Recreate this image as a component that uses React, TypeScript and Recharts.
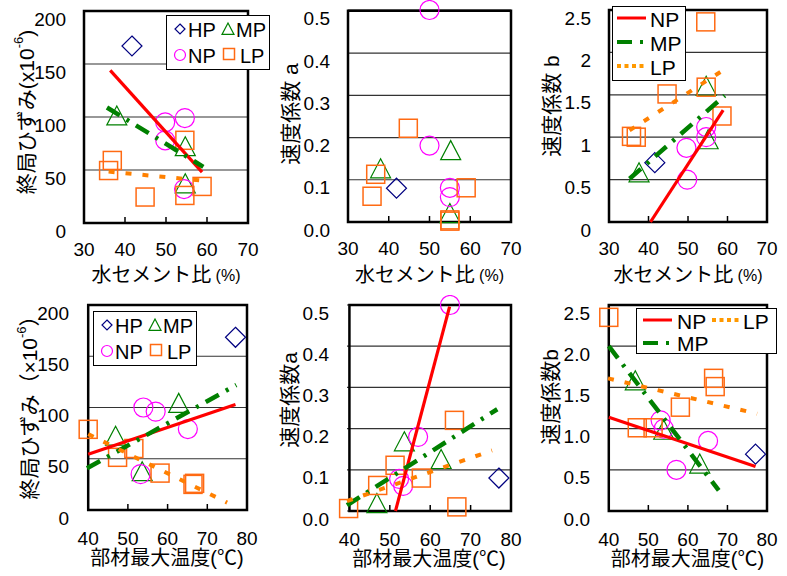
import React from "react";
import {
  ScatterChart,
  Scatter,
  XAxis,
  YAxis,
  CartesianGrid,
  ReferenceArea,
  Legend,
} from "recharts";

type Pt = { x: number; y: number };

// --- top row: water-cement ratio (%) ---
const wcTicks = [30, 40, 50, 60, 70];

const finalHP_wc: Pt[] = [{ x: 41.7, y: 167 }];
const finalMP_wc: Pt[] = [{ x: 38, y: 101 }, { x: 54.7, y: 72 }, { x: 54.7, y: 37 }];
const finalNP_wc: Pt[] = [{ x: 49.8, y: 95 }, { x: 54.6, y: 99 }, { x: 49.8, y: 78 }, { x: 54.4, y: 32 }];
const finalLP_wc: Pt[] = [
  { x: 36.9, y: 59 }, { x: 36, y: 49.5 }, { x: 44.9, y: 24.5 },
  { x: 54.6, y: 78 }, { x: 54.6, y: 26 }, { x: 58.8, y: 34.5 },
];
const finalNPTrend_wc: Pt[] = [{ x: 36.4, y: 144 }, { x: 58.8, y: 48 }];
const finalMPTrend_wc: Pt[] = [{ x: 35.6, y: 109 }, { x: 59.1, y: 53 }];
const finalLPTrend_wc: Pt[] = [{ x: 36, y: 48.5 }, { x: 58.8, y: 40 }];

const aHP_wc: Pt[] = [{ x: 41.9, y: 0.08 }];
const aMP_wc: Pt[] = [{ x: 55.2, y: 0.169 }, { x: 38, y: 0.126 }, { x: 55, y: 0.02 }];
const aNP_wc: Pt[] = [{ x: 50, y: 0.502 }, { x: 50, y: 0.181 }, { x: 55, y: 0.081 }, { x: 55, y: 0.059 }];
const aLP_wc: Pt[] = [
  { x: 44.8, y: 0.222 }, { x: 36.8, y: 0.113 }, { x: 35.9, y: 0.061 },
  { x: 59, y: 0.081 }, { x: 55, y: 0.005 }, { x: 55, y: 0.002 },
];

const bHP_wc: Pt[] = [{ x: 41.6, y: 0.7 }];
const bMP_wc: Pt[] = [{ x: 54.6, y: 1.6 }, { x: 55.1, y: 0.97 }, { x: 37.6, y: 0.58 }];
const bNP_wc: Pt[] = [{ x: 54.6, y: 1.12 }, { x: 54.6, y: 1.0 }, { x: 49.6, y: 0.875 }, { x: 49.8, y: 0.5 }];
const bLP_wc: Pt[] = [
  { x: 54.5, y: 2.36 }, { x: 44.7, y: 1.51 }, { x: 54.6, y: 1.59 },
  { x: 58.6, y: 1.25 }, { x: 35.7, y: 1.01 }, { x: 36.9, y: 1.0 },
];
const bNPTrend_wc: Pt[] = [{ x: 40.5, y: 0 }, { x: 58.9, y: 1.32 }];
const bMPTrend_wc: Pt[] = [{ x: 35.2, y: 0.51 }, { x: 59.3, y: 1.49 }];
const bLPTrend_wc: Pt[] = [{ x: 35.2, y: 1.08 }, { x: 58.9, y: 1.79 }];

// --- bottom row: max member temperature (°C) ---
const tTicks = [40, 50, 60, 70, 80];

const finalHP_t: Pt[] = [{ x: 77.1, y: 168.5 }];
const finalMP_t: Pt[] = [{ x: 62.8, y: 104 }, { x: 46.9, y: 72 }, { x: 53.6, y: 37.4 }];
const finalNP_t: Pt[] = [{ x: 53.9, y: 100 }, { x: 57, y: 96 }, { x: 65.1, y: 79 }, { x: 53.2, y: 35 }];
const finalLP_t: Pt[] = [
  { x: 40, y: 78.7 }, { x: 47.4, y: 51.4 }, { x: 51.5, y: 60 },
  { x: 58.1, y: 36 }, { x: 66.4, y: 25 }, { x: 66.8, y: 26 },
];
const finalNPTrend_t: Pt[] = [{ x: 40, y: 54.3 }, { x: 77.1, y: 103 }];
const finalMPTrend_t: Pt[] = [{ x: 39.7, y: 40.7 }, { x: 77.3, y: 122 }];
const finalLPTrend_t: Pt[] = [{ x: 40, y: 74 }, { x: 75, y: 7.2 }];

const aHP_t: Pt[] = [{ x: 77, y: 0.08 }];
const aMP_t: Pt[] = [{ x: 53.6, y: 0.168 }, { x: 62.7, y: 0.125 }, { x: 46.8, y: 0.018 }];
const aNP_t: Pt[] = [{ x: 64.9, y: 0.5 }, { x: 57, y: 0.18 }, { x: 52.3, y: 0.078 }, { x: 53.3, y: 0.061 }];
const aLP_t: Pt[] = [
  { x: 66, y: 0.22 }, { x: 51.3, y: 0.111 }, { x: 47, y: 0.062 },
  { x: 57.8, y: 0.08 }, { x: 39.8, y: 0.006 }, { x: 66.6, y: 0.01 },
];
const aNPTrend_t: Pt[] = [{ x: 51.4, y: 0 }, { x: 64.8, y: 0.496 }];
const aMPTrend_t: Pt[] = [{ x: 39.4, y: 0.014 }, { x: 76.6, y: 0.247 }];
const aLPTrend_t: Pt[] = [{ x: 39.4, y: 0.024 }, { x: 75.3, y: 0.147 }];

const bHP_t: Pt[] = [{ x: 77.1, y: 0.69 }];
const bMP_t: Pt[] = [{ x: 46.7, y: 1.58 }, { x: 53.9, y: 0.98 }, { x: 63, y: 0.57 }];
const bNP_t: Pt[] = [{ x: 53.1, y: 1.1 }, { x: 53.9, y: 1.0 }, { x: 65.1, y: 0.85 }, { x: 57.1, y: 0.5 }];
const bLP_t: Pt[] = [
  { x: 40, y: 2.35 }, { x: 66.5, y: 1.61 }, { x: 66.9, y: 1.51 },
  { x: 58.1, y: 1.26 }, { x: 47.2, y: 1.01 }, { x: 51.2, y: 1.01 },
];
const bNPTrend_t: Pt[] = [{ x: 40, y: 1.137 }, { x: 77.1, y: 0.54 }];
const bMPTrend_t: Pt[] = [{ x: 40, y: 2.0 }, { x: 67.8, y: 0.25 }];
const bLPTrend_t: Pt[] = [{ x: 39.8, y: 1.61 }, { x: 77.5, y: 1.18 }];

const strainTicks = [0, 50, 100, 150, 200];
const aTicks = [0, 0.1, 0.2, 0.3, 0.4, 0.5];
const bTicks = [0, 0.5, 1, 1.5, 2, 2.5];

const FONT = '"Liberation Sans", Arial, "Noto Sans CJK JP", sans-serif';
const NAVY = "#000080";
const GREEN = "#008000";
const MAGENTA = "#FF00FF";
const ORANGE = "#FF6A13";
const ORANGE_LINE = "#FF8000";
const RED = "#FF0000";

const NP_LINE = { stroke: RED, strokeWidth: 3.2 };
const MP_LINE = { stroke: GREEN, strokeWidth: 4.5, strokeDasharray: "15 8 3 8" };
const LP_LINE = { stroke: ORANGE_LINE, strokeWidth: 4, strokeDasharray: "6 11" };

function Diamond({ cx, cy, r = 10 }: any) {
  return (
    <polygon
      points={`${cx},${cy - r} ${cx + r},${cy} ${cx},${cy + r} ${cx - r},${cy}`}
      fill="none"
      stroke={NAVY}
      strokeWidth={1.2}
    />
  );
}
function Triangle({ cx, cy, r = 10 }: any) {
  return (
    <polygon
      points={`${cx},${cy - r} ${cx + r},${cy + r * 0.9} ${cx - r},${cy + r * 0.9}`}
      fill="none"
      stroke={GREEN}
      strokeWidth={1.2}
    />
  );
}
function Ring({ cx, cy, r = 9.5 }: any) {
  return <circle cx={cx} cy={cy} r={r} fill="none" stroke={MAGENTA} strokeWidth={1.2} />;
}
function Square({ cx, cy, r = 9 }: any) {
  return (
    <rect x={cx - r} y={cy - r} width={2 * r} height={2 * r} fill="none" stroke={ORANGE} strokeWidth={1.5} />
  );
}
const Blank = () => <g />;

function MarkerLegend() {
  const t = { fontSize: 20, fontFamily: FONT, dominantBaseline: "central" as const };
  return (
    <svg width={104} height={55} style={{ display: "block" }}>
      <rect x={0.5} y={0.5} width={103} height={54} fill="#fff" stroke="#000" strokeWidth={1} />
      <Diamond cx={14} cy={14} r={5} />
      <text x={22} y={15} {...t}>HP</text>
      <Triangle cx={62} cy={14} r={6} />
      <text x={70} y={15} {...t}>MP</text>
      <Ring cx={14} cy={40} r={5.5} />
      <text x={22} y={41} {...t}>NP</text>
      <Square cx={63} cy={39} r={5.5} />
      <text x={74} y={41} {...t}>LP</text>
    </svg>
  );
}

function LineLegendTop() {
  const t = { fontSize: 21, fontFamily: FONT, dominantBaseline: "central" as const };
  return (
    <svg width={74} height={75} style={{ display: "block" }}>
      <rect x={0.5} y={0.5} width={73} height={74} fill="#fff" stroke="#000" strokeWidth={1} />
      <line x1={5} x2={34} y1={12} y2={12} stroke={RED} strokeWidth={3} />
      <text x={38} y={13} {...t}>NP</text>
      <line x1={5} x2={34} y1={36} y2={36} stroke={GREEN} strokeWidth={4} strokeDasharray="15 8 3 8" />
      <text x={38} y={37} {...t}>MP</text>
      <line x1={5} x2={34} y1={60} y2={60} stroke="#FF9900" strokeWidth={4} strokeDasharray="4 3.5" />
      <text x={38} y={61} {...t}>LP</text>
    </svg>
  );
}

function LineLegendBottom() {
  const t = { fontSize: 21, fontFamily: FONT, dominantBaseline: "central" as const };
  return (
    <svg width={141} height={46} style={{ display: "block" }}>
      <rect x={0.5} y={0.5} width={140} height={45} fill="#fff" stroke="#000" strokeWidth={1} />
      <line x1={7} x2={36} y1={12} y2={12} stroke={RED} strokeWidth={3} />
      <text x={41} y={13} {...t}>NP</text>
      <line x1={76} x2={104} y1={12} y2={12} stroke="#FF9900" strokeWidth={4} strokeDasharray="4 3.5" />
      <text x={107} y={13} {...t}>LP</text>
      <line x1={7} x2={36} y1={35} y2={35} stroke={GREEN} strokeWidth={4} strokeDasharray="15 8 3 8" />
      <text x={41} y={35} {...t}>MP</text>
    </svg>
  );
}

interface PanelProps {
  plot: { x: number; y: number; w: number; h: number };
  xTicks: number[];
  yTicks: number[];
  yFmt: (v: number) => string;
  xTitle: React.ReactNode;
  xTitleDy: number;
  xTickDy: number;
  yTitle: React.ReactNode;
  yTitleDy: number;
  hp: Pt[];
  mp: Pt[];
  np: Pt[];
  lp: Pt[];
  npTrend?: Pt[];
  mpTrend?: Pt[];
  lpTrend?: Pt[];
  legend?: React.ReactNode;
  legendBox?: { left: number; top: number; width: number; height: number };
}

function Panel(p: PanelProps) {
  const { plot } = p;
  const xLo = p.xTicks[0];
  const xHi = p.xTicks[p.xTicks.length - 1];
  const yLo = p.yTicks[0];
  const yHi = p.yTicks[p.yTicks.length - 1];
  const left = plot.x - 80;
  const top = plot.y - 10;
  const width = plot.w + 102;
  const height = plot.h + 82;

  const xTick = (t: any) => {
    const v = t.payload.value;
    const inner = v !== xLo && v !== xHi;
    return (
      <g>
        {inner && <line x1={t.x} x2={t.x} y1={t.y} y2={t.y - 6} stroke="#000" strokeWidth={1.5} />}
        <text x={t.x} y={t.y + p.xTickDy} textAnchor="middle" dominantBaseline="central" fontSize={19} fontFamily={FONT} fill="#000">
          {v}
        </text>
      </g>
    );
  };
  const yTick = (t: any) => (
    <text x={t.x} y={t.y + 8} textAnchor="end" dominantBaseline="central" fontSize={19} fontFamily={FONT} fill="#000">
      {p.yFmt(t.payload.value)}
    </text>
  );

  return (
    <div style={{ position: "absolute", left, top, width, height }}>
      <ScatterChart width={width} height={height} margin={{ top: 10, right: 22, bottom: 0, left: 0 }}>
        <CartesianGrid horizontal vertical={false} stroke="#333" strokeWidth={1.2} />
        <XAxis
          type="number"
          dataKey="x"
          domain={[xLo, xHi]}
          ticks={p.xTicks}
          interval={0}
          height={72}
          axisLine={false}
          tickLine={false}
          tickSize={0}
          tickMargin={0}
          tick={xTick}
          label={{
            content: (lp: any) => {
              const vb = lp.viewBox;
              return (
                <text x={vb.x + vb.width / 2} y={vb.y + p.xTitleDy} textAnchor="middle" dominantBaseline="central" fontSize={20} fontFamily={FONT} fill="#000">
                  {p.xTitle}
                </text>
              );
            },
          }}
        />
        <YAxis
          type="number"
          dataKey="y"
          domain={[yLo, yHi]}
          ticks={p.yTicks}
          interval={0}
          width={80}
          axisLine={false}
          tickLine={false}
          tickSize={0}
          tickMargin={18}
          tick={yTick}
          label={{
            content: (lp: any) => {
              const vb = lp.viewBox;
              const cx = vb.x + 22;
              const cy = vb.y + vb.height / 2 + p.yTitleDy;
              return (
                <text x={cx} y={cy} transform={`rotate(-90 ${cx} ${cy})`} textAnchor="middle" dominantBaseline="central" fontSize={21} fontFamily={FONT} fill="#000">
                  {p.yTitle}
                </text>
              );
            },
          }}
        />
        <ReferenceArea x1={xLo} x2={xHi} y1={yLo} y2={yHi} fill="none" stroke="#000" strokeWidth={2.5} fillOpacity={0} />
        <Scatter name="HP" data={p.hp} shape={Diamond} isAnimationActive={false} />
        <Scatter name="MP" data={p.mp} shape={Triangle} isAnimationActive={false} />
        <Scatter name="NP" data={p.np} shape={Ring} isAnimationActive={false} />
        <Scatter name="LP" data={p.lp} shape={Square} isAnimationActive={false} />
        {p.npTrend && (
          <Scatter name="NP trend" data={p.npTrend} shape={Blank} fill={RED} line={NP_LINE} isAnimationActive={false} legendType="none" />
        )}
        {p.mpTrend && (
          <Scatter name="MP trend" data={p.mpTrend} shape={Blank} fill={GREEN} line={MP_LINE} isAnimationActive={false} legendType="none" />
        )}
        {p.lpTrend && (
          <Scatter name="LP trend" data={p.lpTrend} shape={Blank} fill={ORANGE_LINE} line={LP_LINE} isAnimationActive={false} legendType="none" />
        )}
        {p.legend && p.legendBox && (
          <Legend
            layout="horizontal"
            verticalAlign="middle"
            align="center"
            wrapperStyle={{
              left: p.legendBox.left,
              top: p.legendBox.top,
              width: p.legendBox.width,
              height: p.legendBox.height,
              lineHeight: 0,
              overflow: "visible",
            }}
            content={() => p.legend}
          />
        )}
      </ScatterChart>
    </div>
  );
}

const fmtInt = (v: number) => String(v);
const fmt1 = (v: number) => v.toFixed(1);
const fmtB = (v: number) => (v === 0 ? "0" : String(v));

const wcTitle = (
  <>
    水セメント比<tspan fontSize={16}> (%)</tspan>
  </>
);
const tTitle = <>部材最大温度(℃)</>;
const strainTitleTop = (
  <>
    終局ひずみ(x10<tspan dy={-8} fontSize={13}>-6</tspan>
    <tspan dy={8}>)</tspan>
  </>
);
const strainTitleBottom = (
  <>
    終局ひずみ（×10<tspan dy={-8} fontSize={13}>-6</tspan>
    <tspan dy={8}>）</tspan>
  </>
);

export default function App() {
  return (
    <div style={{ position: "absolute", left: 0, top: 0, width: 787, height: 576, overflow: "hidden", background: "#fff", fontFamily: FONT }}>
      <Panel
        plot={{ x: 84, y: 11, w: 164, h: 212 }}
        xTicks={wcTicks} yTicks={strainTicks} yFmt={fmtInt}
        xTitle={wcTitle} xTitleDy={52} xTickDy={26}
        yTitle={strainTitleTop} yTitleDy={-5}
        hp={finalHP_wc} mp={finalMP_wc} np={finalNP_wc} lp={finalLP_wc}
        npTrend={finalNPTrend_wc} mpTrend={finalMPTrend_wc} lpTrend={finalLPTrend_wc}
        legend={<MarkerLegend />} legendBox={{ left: 162, top: 14, width: 104, height: 55 }}
      />
      <Panel
        plot={{ x: 348, y: 10, w: 163, h: 212 }}
        xTicks={wcTicks} yTicks={aTicks} yFmt={fmt1}
        xTitle={wcTitle} xTitleDy={53} xTickDy={26}
        yTitle={<>速度係数 a</>} yTitleDy={-2}
        hp={aHP_wc} mp={aMP_wc} np={aNP_wc} lp={aLP_wc}
      />
      <Panel
        plot={{ x: 609, y: 10, w: 158, h: 212 }}
        xTicks={wcTicks} yTicks={bTicks} yFmt={fmtB}
        xTitle={wcTitle} xTitleDy={53} xTickDy={26}
        yTitle={<>速度係数 b</>} yTitleDy={-10}
        hp={bHP_wc} mp={bMP_wc} np={bNP_wc} lp={bLP_wc}
        npTrend={bNPTrend_wc} mpTrend={bMPTrend_wc} lpTrend={bLPTrend_wc}
        legend={<LineLegendTop />} legendBox={{ left: 83, top: 6, width: 74, height: 75 }}
      />
      <Panel
        plot={{ x: 87, y: 305, w: 160, h: 205 }}
        xTicks={tTicks} yTicks={strainTicks} yFmt={fmtInt}
        xTitle={tTitle} xTitleDy={48} xTickDy={28}
        yTitle={strainTitleBottom} yTitleDy={-5}
        hp={finalHP_t} mp={finalMP_t} np={finalNP_t} lp={finalLP_t}
        npTrend={finalNPTrend_t} mpTrend={finalMPTrend_t} lpTrend={finalLPTrend_t}
        legend={<MarkerLegend />} legendBox={{ left: 86, top: 16, width: 104, height: 55 }}
      />
      <Panel
        plot={{ x: 347, y: 305, w: 164, h: 206 }}
        xTicks={tTicks} yTicks={aTicks} yFmt={fmt1}
        xTitle={tTitle} xTitleDy={48} xTickDy={28}
        yTitle={<>速度係数a</>} yTitleDy={-8}
        hp={aHP_t} mp={aMP_t} np={aNP_t} lp={aLP_t}
        npTrend={aNPTrend_t} mpTrend={aMPTrend_t} lpTrend={aLPTrend_t}
      />
      <Panel
        plot={{ x: 608, y: 305, w: 159, h: 206 }}
        xTicks={tTicks} yTicks={bTicks} yFmt={fmt1}
        xTitle={tTitle} xTitleDy={48} xTickDy={28}
        yTitle={<>速度係数b</>} yTitleDy={-11}
        hp={bHP_t} mp={bMP_t} np={bNP_t} lp={bLP_t}
        npTrend={bNPTrend_t} mpTrend={bMPTrend_t} lpTrend={bLPTrend_t}
        legend={<LineLegendBottom />} legendBox={{ left: 108, top: 13, width: 141, height: 46 }}
      />
    </div>
  );
}
